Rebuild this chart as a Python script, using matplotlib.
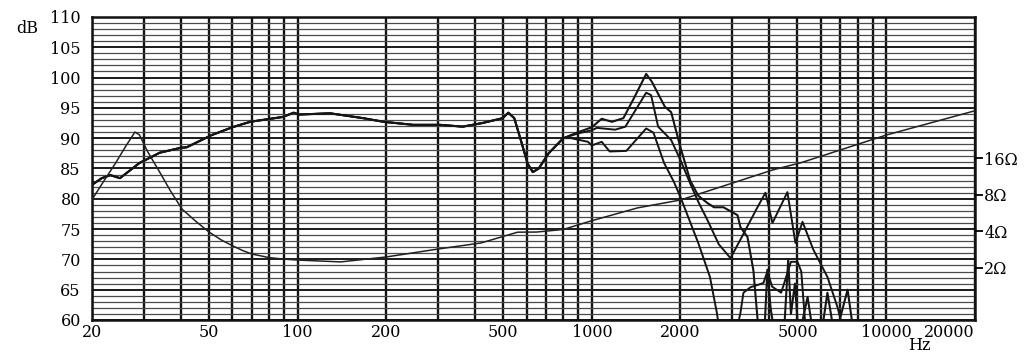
import numpy as np
import matplotlib.pyplot as plt
from matplotlib.ticker import FixedLocator, NullFormatter

plt.rcParams['font.family'] = ['DejaVu Serif', 'Liberation Serif']

# shared part of the three response curves (Hz, dB)
freq_low = [20, 21.6, 23.1, 24.9, 29, 34, 40, 42, 51, 60, 69, 89, 97, 101, 129, 167, 196,
            247, 305, 364, 425, 498, 520, 545, 575, 605, 630, 660, 713, 800]
spl_low = [82.3, 83.4, 83.9, 83.4, 85.9, 87.6, 88.4, 88.5, 90.5, 91.8, 92.7, 93.5, 94.2, 93.9,
           94.1, 93.3, 92.7, 92.2, 92.2, 91.9, 92.5, 93.3, 94.2, 93.3, 89.5, 85.8, 84.4, 85.0,
           87.5, 90.0]

# upper curve
freq_a = [900, 1000, 1080, 1170, 1280, 1380, 1530, 1600, 1770, 1860, 2000, 2160, 2300, 2470,
          2600, 2800, 3126, 3200, 3380, 3540, 3660, 3850, 3950, 4050, 4200, 4500, 4650, 4750,
          4900, 5050, 5410, 5600, 6000, 6320, 6700, 7400, 7700, 8000, 20000]
spl_a = [91.0, 91.8, 93.2, 92.7, 93.3, 96.3, 100.6, 99.3, 95.2, 94.3, 88.5, 83.0, 80.5, 79.3,
         78.6, 78.6, 77.3, 75.3, 73.7, 68.2, 60.0, 57.0, 68.3, 62.0, 57.0, 58.0, 70.0, 61.0,
         66.0, 57.0, 63.8, 59.0, 57.0, 64.5, 57.0, 65.0, 59.0, 55.0, 50.0]

# middle curve
freq_b = [900, 1000, 1040, 1200, 1300, 1530, 1590, 1680, 1860, 2000, 2160, 2300, 2470, 2700,
          2960, 3300, 3600, 3890, 4110, 4620, 4920, 5200, 5660, 6320, 6840, 7100, 7500, 20000]
spl_b = [90.8, 91.3, 91.7, 91.4, 91.9, 97.5, 97.1, 91.9, 89.7, 86.4, 82.5, 79.5, 76.5, 72.5,
         70.2, 74.5, 78.0, 81.0, 76.0, 81.1, 72.7, 76.2, 71.6, 67.1, 62.1, 59.0, 55.0, 50.0]

# lower curve
freq_c = [850, 970, 1000, 1080, 1150, 1310, 1530, 1620, 1760, 1900, 2000, 2300, 2520, 2660,
          2720, 3000, 3200, 3275, 3460, 3830, 3950, 4100, 4400, 4750, 5000, 5150, 5300, 5600,
          20000]
spl_c = [90.0, 89.4, 88.8, 89.4, 87.8, 87.9, 91.6, 90.9, 85.9, 82.8, 80.3, 72.7, 67.1, 61.2,
         58.0, 55.0, 61.2, 64.5, 65.4, 66.1, 68.0, 65.5, 64.5, 69.6, 69.6, 68.0, 60.0, 55.0,
         50.0]

# impedance (Hz, ohm)
freq_imp = [20, 22, 24, 26, 28, 29, 31, 34, 37, 40.5, 45, 50, 55, 60, 65, 70, 80, 90, 100,
            140, 200, 300, 420, 516, 560, 650, 800, 1000, 1430, 2000, 4140, 5120, 10000, 20000]
ohm_imp = [7.3, 10.5, 14.5, 20.0, 26.4, 25.0, 18.0, 12.3, 8.6, 6.1, 4.86, 3.95, 3.4, 3.05,
           2.78, 2.6, 2.43, 2.36, 2.32, 2.24, 2.46, 2.86, 3.21, 3.72, 3.94, 3.95, 4.15, 4.9,
           6.25, 7.26, 12.9, 14.7, 24.9, 39.5]

x_labels = [20, 50, 100, 200, 500, 1000, 2000, 5000, 10000, 20000]
x_grid = [30, 40, 60, 70, 80, 90, 300, 400, 600, 700, 800, 900,
          3000, 4000, 6000, 7000, 8000, 9000]
y_labels = list(range(60, 111, 5))
ohm_ticks = [2, 4, 8, 16]

fig = plt.figure(figsize=(10.24, 3.53), dpi=100)
ax = fig.add_axes([0.0898, 0.0935, 0.862, 0.8585])

ax.set_xscale('log')
ax.set_xlim(20, 20000)
ax.set_ylim(60, 110)

ax.xaxis.set_major_locator(FixedLocator(x_labels))
ax.xaxis.set_minor_locator(FixedLocator(x_grid))
ax.xaxis.set_minor_formatter(NullFormatter())
ax.set_xticklabels([str(v) for v in x_labels])
ax.get_xticklabels()[-1].set_ha('right')
ax.set_yticks(y_labels)
ax.set_yticks(range(60, 111), minor=True)

ax.grid(True, which='major', axis='x', color='#111111', lw=1.7)
ax.grid(True, which='minor', axis='x', color='#111111', lw=1.7)
ax.grid(True, which='major', axis='y', color='#1a1a1a', lw=1.4)
ax.grid(True, which='minor', axis='y', color='#4a4a4a', lw=0.9)
ax.set_axisbelow(True)

ax.tick_params(which='both', length=0, labelsize=11.5)
ax.tick_params(axis='y', pad=8)
ax.tick_params(axis='x', pad=3)
for s in ax.spines.values():
    s.set_linewidth(1.8)
    s.set_color('#111111')

ax.plot(freq_low + freq_a, spl_low + spl_a, color='#151515', lw=1.5)
ax.plot(freq_low + freq_b, spl_low + spl_b, color='#151515', lw=1.4)
ax.plot(freq_low + freq_c, spl_low + spl_c, color='#151515', lw=1.4)

# impedance scale on the right
ax2 = ax.twinx()
ax2.set_yscale('log')
ax2.set_ylim(0.743, 235)
ax2.set_yticks(ohm_ticks)
ax2.set_yticklabels([f'{v}\u03a9' for v in ohm_ticks])
ax2.yaxis.set_minor_locator(FixedLocator([]))
ax2.tick_params(axis='y', length=6, width=1.3, pad=1, labelsize=11.5)
for s in ax2.spines.values():
    s.set_visible(False)
ax2.plot(freq_imp, ohm_imp, color='#222222', lw=1.1)

fig.text(0.027, 0.92, 'dB', fontsize=11.5, ha='center', va='center')
fig.text(0.898, 0.02, 'Hz', fontsize=11.5, ha='center', va='center')

fig.savefig('out.png', dpi=100)
